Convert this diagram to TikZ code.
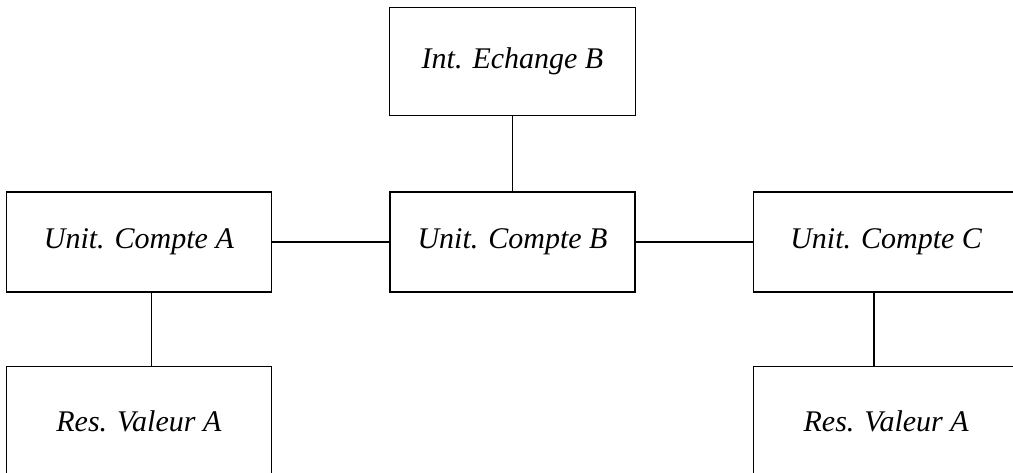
\documentclass[tikz,border=0pt]{standalone}
\usepackage{fontspec}
\setmainfont{Liberation Serif}
\usepackage{tikz}
\usetikzlibrary{positioning}

\begin{document}
\begin{tikzpicture}[
      node distance=56.25pt and 88pt,
      box/.style={draw, line width=1pt, minimum width=198.75pt, minimum height=75pt,
        font=\fontsize{22.5}{27}\selectfont\itshape, inner sep=0pt},
      link/.style={line width=1pt}
    ]
    \useasboundingbox (-384.4pt,-173.25pt) rectangle (375.4pt,181.5pt);
    \clip (-384.4pt,-173.25pt) rectangle (375.4pt,181.5pt);

    \node[box, minimum width=183.75pt] (UcB) {Unit. Compte B};
    \node[box, minimum width=184.5pt, minimum height=81pt, above=of UcB] (IeB) {Int. Echange B};
    \node[box, left=of UcB] (UcA) {Unit. Compte A};
    \node[box, right=of UcB] (UcC) {Unit. Compte C};
    \node[box, minimum height=82.5pt, below=54.75pt of UcA] (RvA) {Res. Valeur A};
    \node[box, minimum height=82.5pt, below=54.75pt of UcC] (RvC) {Res. Valeur A};

    \draw[link] (IeB) -- (UcB);
    \draw[link] (UcA) -- (UcB);
    \draw[link] (UcB) -- (UcC);
    \draw[link] ([xshift=9.4pt]UcA.south) -- ([xshift=9.4pt]RvA.north);
    \draw[link] ([xshift=-9pt]UcC.south) -- ([xshift=-9pt]RvC.north);
  \end{tikzpicture}
\end{document}
